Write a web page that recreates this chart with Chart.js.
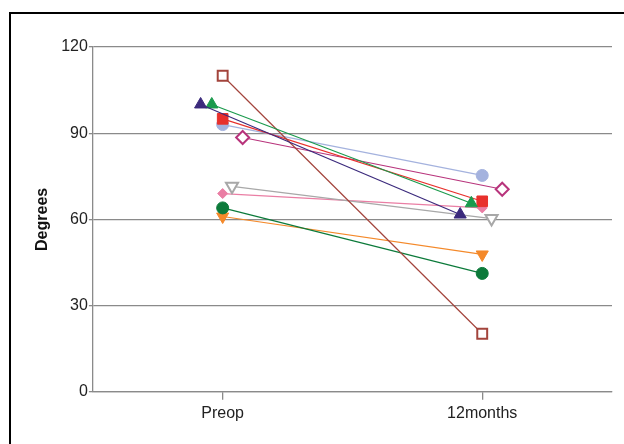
<!DOCTYPE html>
<html>
<head>
<meta charset="utf-8">
<script src="https://cdn.jsdelivr.net/npm/chart.js@4"></script>
<style>
  html, body { margin: 0; padding: 0; background: #fff; }
  #wrap { position: relative; width: 624px; height: 444px; overflow: hidden; }
  #frame { position: absolute; left: 9px; top: 12px; width: 700px; height: 500px; border: 2px solid #000; }
  #chart { position: absolute; left: 0; top: 0; }
</style>
</head>
<body>
<div id="wrap">
  <div id="frame"></div>
  <canvas id="chart" width="624" height="444"></canvas>
</div>
<script>
const categories = ["Preop", "12months"];
const yTicks = [0, 30, 60, 90, 120];
// one entry per patient
const preopValues = [100, 100, 110, 95, 93, 88.5, 71.5, 69, 64, 61];
const monthValues = [61.7, 65.6, 20.2, 66.3, 75.3, 70.5, 60.3, 64, 41.2, 47.8];

// marker styles + small horizontal jitter, same order as the values
const looks = [
  { color: "#3b2a7c", shape: "triangle", fill: true, dx: -0.085, r: 7 },
  { color: "#1a9a4c", shape: "triangle", fill: true, dx: -0.042, r: 7 },
  { color: "#a3443c", shape: "rect", fill: false, dx: 0, r: 7 },
  { color: "#e8302c", shape: "rect", fill: true, dx: 0, r: 7.5 },
  { color: "#a4b2de", shape: "circle", fill: true, dx: 0, r: 6 },
  { color: "#b8347c", shape: "rectRot", fill: false, dx: 0.077, r: 6.5 },
  { color: "#a8a8a8", shape: "triangle", fill: false, rot: 180, dx: 0.036, r: 7 },
  { color: "#ea7ea4", shape: "rectRot", fill: true, dx: 0, r: 5 },
  { color: "#0c7a3a", shape: "circle", fill: true, dx: 0, r: 6 },
  { color: "#f4892a", shape: "triangle", fill: true, rot: 180, dx: 0, r: 7 },
];

const datasets = preopValues.map((v, i) => {
  const s = looks[i];
  return {
    data: [
      { x: 1 + s.dx, y: v },
      { x: 2 + s.dx, y: monthValues[i] },
    ],
    showLine: true,
    borderColor: s.color,
    borderWidth: 1.2,
    pointStyle: s.shape,
    pointRotation: s.rot || 0,
    pointRadius: s.r,
    pointBorderWidth: s.fill ? 1 : 2,
    pointBorderColor: s.color,
    pointBackgroundColor: s.fill ? s.color : "#ffffff",
  };
});

new Chart(document.getElementById("chart"), {
  type: "scatter",
  data: { datasets },
  options: {
    responsive: false,
    animation: false,
    layout: { padding: { top: 47, right: 12, bottom: 17, left: 33 } },
    plugins: { legend: { display: false }, tooltip: { enabled: false } },
    scales: {
      x: {
        type: "linear",
        min: 0.5,
        max: 2.5,
        afterBuildTicks: (axis) => {
          axis.ticks = categories.map((c, i) => ({ value: i + 1 }));
        },
        ticks: {
          callback: (v) => categories[v - 1],
          color: "#222",
          font: { family: "Liberation Sans, Arial", size: 16 },
          padding: 4,
        },
        grid: { drawOnChartArea: false, tickLength: 8, color: "#8a8a8a", lineWidth: 1.3 },
        border: { color: "#8a8a8a", width: 1.3 },
      },
      y: {
        min: 0,
        max: 120,
        afterBuildTicks: (axis) => {
          axis.ticks = yTicks.map((v) => ({ value: v }));
        },
        ticks: {
          color: "#222",
          font: { family: "Liberation Sans, Arial", size: 16 },
          padding: 1,
        },
        grid: { color: "#8a8a8a", lineWidth: 1.3, tickLength: 4 },
        border: { color: "#8a8a8a", width: 1.3 },
        title: {
          display: true,
          text: "Degrees",
          color: "#111",
          font: { family: "Liberation Sans, Arial", size: 16, weight: "bold" },
          padding: { top: 0, bottom: 8 },
        },
      },
    },
  },
});
</script>
</body>
</html>
